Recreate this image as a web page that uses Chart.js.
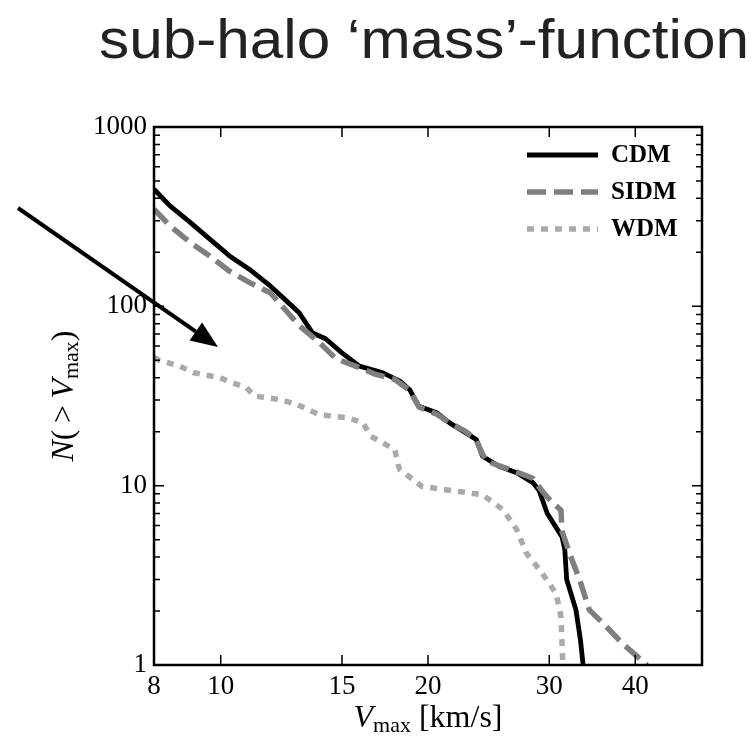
<!DOCTYPE html>
<html><head><meta charset="utf-8">
<script src="https://cdn.jsdelivr.net/npm/chart.js@4/dist/chart.umd.min.js"></script>
<style>html,body{margin:0;padding:0;background:#fff;overflow:hidden;} #wrap{position:absolute;left:0;top:0;width:756px;height:736px;}</style>
</head><body><div id="wrap"><canvas id="c"></canvas></div>
<script>
// ---- data ----
const cdmV = [8.0, 8.44, 9.03, 9.64, 10.3, 11.0, 11.8, 12.4, 13.0, 13.6, 14.2, 15.0, 15.9, 17.2, 18.2, 18.8, 19.4, 20.6, 21.5, 22.7, 23.5, 24.0, 25.4, 26.9, 28.4, 29.0, 29.8, 31.3, 31.6, 31.8, 32.8, 33.3, 33.6];
const cdmN = [450, 363, 294, 237, 191, 161, 130, 109, 92, 71, 66, 55, 46.4, 42.6, 38.3, 34.4, 27.7, 25.5, 22.4, 19.7, 18.1, 14.6, 12.8, 11.8, 10.4, 9.4, 7.0, 5.2, 4.4, 3.0, 2.03, 1.38, 1.0];
const sidmV = [8.0, 8.44, 9.03, 9.64, 10.3, 11.0, 11.8, 12.4, 13.0, 13.9, 14.7, 15.7, 16.8, 17.9, 18.8, 19.4, 20.6, 21.5, 22.7, 23.5, 24.0, 24.3, 26.0, 28.4, 29.2, 30.0, 31.2, 31.3, 32.1, 33.2, 34.3, 36.3, 38.3, 41.6];
const sidmN = [348, 281, 227, 191, 157, 136, 119, 96, 78, 63, 51, 46.4, 41.7, 39.1, 34, 27.5, 25, 22.4, 20, 18, 15, 13.7, 12.5, 11.0, 9.5, 8.4, 7.3, 5.6, 4.2, 3.0, 2.03, 1.64, 1.32, 1.0];
const wdmV = [8.0, 8.14, 8.72, 9.14, 9.97, 10.4, 10.9, 11.2, 12.2, 12.9, 13.9, 15.3, 16.1, 16.5, 17.9, 18.1, 18.2, 19.6, 21.2, 24.0, 25.7, 26.9, 27.8, 29.3, 30.7, 31.2, 31.4];
const wdmN = [52, 50, 46.4, 42.6, 40, 37.5, 35.2, 31.6, 30.2, 28.4, 24.9, 23.9, 22.4, 18.9, 15.9, 13.1, 12.3, 9.9, 9.5, 8.9, 7.35, 5.7, 4.2, 3.25, 2.5, 1.86, 1.0];
const seriesNames = ['CDM', 'SIDM', 'WDM'];
const xTickValues = [8, 10, 15, 20, 30, 40];
const yTickValues = [1, 10, 100, 1000];
const xRange = [8, 50];
const yRange = [1, 1000];
const titleText = 'sub-halo \u2018mass\u2019-function';

// ---- styles ----
const SERIF = '"Liberation Serif", "DejaVu Serif", serif';
const SANS = '"Liberation Sans", Arial, sans-serif';
const styles = [
  {color: '#000000', width: 4.8, dash: []},
  {color: '#7f7f7f', width: 5.5, dash: [19, 8]},
  {color: '#aaaaaa', width: 5.5, dash: [7, 7]}
];
const toPts = (xs, ys) => xs.map((v, i) => ({x: v, y: ys[i]}));
const allData = [toPts(cdmV, cdmN), toPts(sidmV, sidmN), toPts(wdmV, wdmN)];

function drawRich(ctx, pieces, x, y, align) {
  let total = 0;
  pieces.forEach(p => { ctx.font = p.font; p.w = ctx.measureText(p.text).width; total += p.w; });
  let cx = align === 'center' ? x - total / 2 : x;
  pieces.forEach(p => {
    ctx.font = p.font;
    ctx.fillText(p.text, cx, y + (p.dy || 0));
    cx += p.w;
  });
}

const decor = {
  id: 'decor',
  afterDraw(chart) {
    const ctx = chart.ctx;
    const a = chart.chartArea;
    const xs = chart.scales.x, ys = chart.scales.y;
    ctx.save();
    // frame
    ctx.strokeStyle = '#000';
    ctx.lineWidth = 2.5;
    ctx.strokeRect(a.left, a.top, a.right - a.left, a.bottom - a.top);
    // x ticks (inward, bottom and top)
    ctx.lineWidth = 1.5;
    xTickValues.forEach(v => {
      const px = xs.getPixelForValue(v);
      if (px <= a.left + 1 || px >= a.right - 1) return;
      ctx.beginPath();
      ctx.moveTo(px, a.bottom); ctx.lineTo(px, a.bottom - 10);
      ctx.moveTo(px, a.top); ctx.lineTo(px, a.top + 10);
      ctx.stroke();
    });
    // y ticks major + minor, both sides
    for (let k = 0; k < 3; k++) {
      for (let m = 1; m <= 9; m++) {
        const v = m * Math.pow(10, k);
        if (v <= yRange[0] || v >= yRange[1]) continue;
        const py = ys.getPixelForValue(v);
        const len = m === 1 ? 10 : 6;
        ctx.beginPath();
        ctx.moveTo(a.left, py); ctx.lineTo(a.left + len, py);
        ctx.moveTo(a.right, py); ctx.lineTo(a.right - len, py);
        ctx.stroke();
      }
    }
    // legend
    const lx0 = a.right - 175, lx1 = a.right - 104, tx = a.right - 91;
    ctx.font = 'bold 25px ' + SERIF;
    ctx.textBaseline = 'middle';
    ctx.textAlign = 'left';
    seriesNames.forEach((name, i) => {
      const yy = a.top + 28 + i * 37;
      const st = styles[i];
      ctx.beginPath();
      ctx.strokeStyle = st.color;
      ctx.lineWidth = st.width;
      ctx.setLineDash(st.dash);
      ctx.lineCap = 'butt';
      ctx.moveTo(lx0, yy); ctx.lineTo(lx1, yy);
      ctx.stroke();
      ctx.setLineDash([]);
      ctx.fillStyle = '#000';
      ctx.fillText(name, tx, yy + 1);
    });
    // arrow annotation
    const sx = 18, sy = 208, ex = 218, ey = 347;
    const ang = Math.atan2(ey - sy, ex - sx);
    const hl = 27, hw = 11;
    const bx = ex - hl * Math.cos(ang), by = ey - hl * Math.sin(ang);
    ctx.strokeStyle = '#000';
    ctx.lineWidth = 4;
    ctx.beginPath(); ctx.moveTo(sx, sy); ctx.lineTo(bx, by); ctx.stroke();
    ctx.fillStyle = '#000';
    ctx.beginPath();
    ctx.moveTo(ex, ey);
    ctx.lineTo(bx + hw * Math.sin(ang), by - hw * Math.cos(ang));
    ctx.lineTo(bx - hw * Math.sin(ang), by + hw * Math.cos(ang));
    ctx.closePath(); ctx.fill();
    // axis titles
    ctx.fillStyle = '#000';
    ctx.textBaseline = 'alphabetic';
    drawRich(ctx, [
      {text: 'V', font: 'italic 32px ' + SERIF},
      {text: 'max', font: '22px ' + SERIF, dy: 5},
      {text: ' [km/s]', font: '32px ' + SERIF}
    ], (a.left + a.right) / 2, 727, 'center');
    ctx.save();
    ctx.translate(73, (a.top + a.bottom) / 2);
    ctx.rotate(-Math.PI / 2);
    drawRich(ctx, [
      {text: 'N', font: 'italic 32px ' + SERIF},
      {text: '(\u2009>\u2009', font: '32px ' + SERIF},
      {text: 'V', font: 'italic 32px ' + SERIF},
      {text: 'max', font: '22px ' + SERIF, dy: 5},
      {text: ')', font: '32px ' + SERIF}
    ], 0, 0, 'center');
    ctx.restore();
    // main title
    ctx.font = '56px ' + SANS;
    ctx.fillStyle = '#222222';
    const w = ctx.measureText(titleText).width;
    ctx.save();
    ctx.translate(99, 58);
    ctx.scale(650 / w, 1);
    ctx.fillText(titleText, 0, 0);
    ctx.restore();
    ctx.restore();
  }
};

new Chart(document.getElementById('c'), {
  type: 'line',
  data: {
    datasets: seriesNames.map((name, i) => ({
      label: name,
      data: allData[i],
      borderColor: styles[i].color,
      borderWidth: styles[i].width,
      borderDash: styles[i].dash,
      borderCapStyle: 'butt',
      borderJoinStyle: 'round',
      pointRadius: 0,
      fill: false,
      tension: 0,
      order: 3 - i
    }))
  },
  options: {
    responsive: true,
    maintainAspectRatio: false,
    animation: false,
    devicePixelRatio: 1,
    layout: {padding: {left: 0, top: 127, right: 54, bottom: 0}},
    plugins: {legend: {display: false}, tooltip: {enabled: false}, title: {display: false}},
    scales: {
      x: {
        type: 'logarithmic', min: xRange[0], max: xRange[1],
        afterBuildTicks: s => { s.ticks = xTickValues.map(v => ({value: v})); },
        afterFit: s => { s.height = 71; },
        ticks: {callback: v => String(v), font: {family: SERIF, size: 27}, color: '#000', padding: 6, maxRotation: 0, autoSkip: false},
        grid: {display: false, drawTicks: false, tickLength: 0}, border: {display: false}
      },
      y: {
        type: 'logarithmic', min: yRange[0], max: yRange[1],
        afterBuildTicks: s => { s.ticks = yTickValues.map(v => ({value: v})); },
        afterFit: s => { s.width = 154; },
        ticks: {callback: v => String(v), font: {family: SERIF, size: 27}, color: '#000', padding: 7, autoSkip: false},
        grid: {display: false, drawTicks: false, tickLength: 0}, border: {display: false}
      }
    }
  },
  plugins: [decor]
});
</script>
</body></html>
